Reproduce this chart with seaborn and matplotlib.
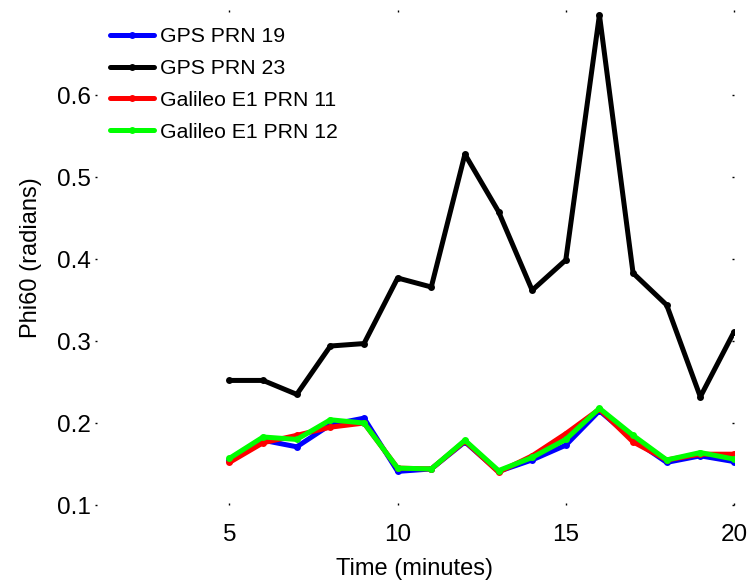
import numpy as np
import pandas as pd
import matplotlib
matplotlib.use("Agg")
import matplotlib.pyplot as plt
import seaborn as sns

# ------------------------------------------------------------
# DATA
# ------------------------------------------------------------

minutes = list(range(5, 21))

gps_prn19 = [0.155, 0.179, 0.171, 0.198, 0.206, 0.141, 0.144, 0.177,
             0.141, 0.155, 0.173, 0.215, 0.180, 0.152, 0.160, 0.153]
gps_prn23 = [0.252, 0.252, 0.235, 0.294, 0.297, 0.377, 0.366, 0.528,
             0.458, 0.362, 0.399, 0.698, 0.383, 0.344, 0.232, 0.311]
gal_prn11 = [0.152, 0.176, 0.185, 0.195, 0.200, 0.145, 0.144, 0.178,
             0.140, 0.160, 0.187, 0.217, 0.177, 0.155, 0.162, 0.162]
gal_prn12 = [0.157, 0.183, 0.180, 0.204, 0.200, 0.145, 0.144, 0.179,
             0.142, 0.158, 0.180, 0.218, 0.185, 0.155, 0.164, 0.156]

labels = ["GPS PRN 19", "GPS PRN 23", "Galileo E1 PRN 11", "Galileo E1 PRN 12"]
colors = ["#0000ff", "#000000", "#ff0000", "#00ff00"]

x_ticks = [5, 10, 15, 20]
y_ticks = [0.1, 0.2, 0.3, 0.4, 0.5, 0.6]

# ------------------------------------------------------------
# STYLE
# ------------------------------------------------------------

sns.set_style("white")
plt.rcParams["font.family"] = ["Liberation Sans", "DejaVu Sans"]
plt.rcParams["text.color"] = "black"
plt.rcParams["axes.labelcolor"] = "black"
plt.rcParams["xtick.color"] = "black"
plt.rcParams["ytick.color"] = "black"

fig = plt.figure(figsize=(7.52, 5.82), dpi=100)
ax = fig.add_axes([0.1263, 0.1323, 0.8497, 0.8505])

series = [gps_prn19, gps_prn23, gal_prn11, gal_prn12]

for values, label, color in zip(series, labels, colors):
    sns.lineplot(
        x=minutes,
        y=values,
        ax=ax,
        color=color,
        label=label,
        linewidth=3.6,
        marker="o",
        markersize=5,
        markeredgewidth=0,
    )

ax.set_xlim(1, 20)
ax.set_ylim(0.1, 0.704)
ax.set_xticks(x_ticks)
ax.set_yticks(y_ticks)
ax.set_yticklabels([f"{v:.1f}" for v in y_ticks])

for side in ["top", "right", "bottom", "left"]:
    ax.spines[side].set_visible(False)

ax.tick_params(axis="both", which="both", direction="in", length=1.5,
               width=1, color="black", labelcolor="black", top=True,
               right=True, bottom=True, left=True, labelsize=17.5)
ax.tick_params(axis="x", pad=14)
ax.tick_params(axis="y", pad=3)

ax.set_xlabel("Time (minutes)", fontsize=17, labelpad=8, color="black")
ax.set_ylabel("Phi60 (radians)", fontsize=17, labelpad=11, color="black")

leg = ax.legend(
    loc="upper left",
    bbox_to_anchor=(0.0, 0.995),
    frameon=False,
    fontsize=15.3,
    numpoints=1,
    handlelength=2.1,
    handletextpad=0.25,
    labelspacing=0.6,
    borderaxespad=0.3,
)
for t in leg.get_texts():
    t.set_color("black")

fig.savefig("out.png", dpi=100)
